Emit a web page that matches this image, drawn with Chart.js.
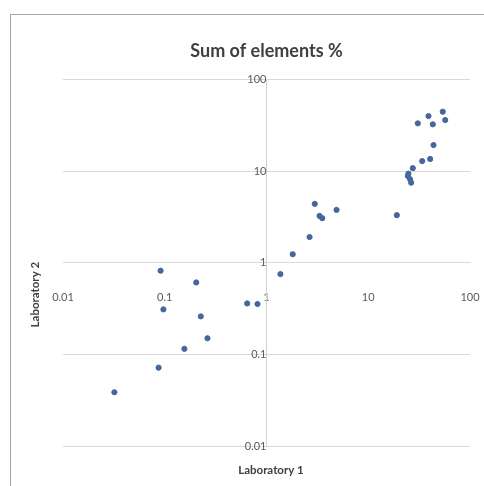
<!DOCTYPE html>
<html>
<head>
<meta charset="utf-8">
<script src="https://cdn.jsdelivr.net/npm/chart.js@4/dist/chart.umd.min.js"></script>
<style>
  html, body { margin: 0; padding: 0; background: #fff; overflow: hidden; }
  #frame { position: absolute; left: 10px; top: 14px; width: 600px; height: 600px;
           border-left: 1px solid #a6a6a6; border-top: 1px solid #a6a6a6; }
  #c { position: absolute; left: 0; top: 0; }
</style>
</head>
<body>
<div id="frame"></div>
<canvas id="c" width="484" height="486"></canvas>
<script>
// values (Laboratory 1 vs Laboratory 2)
const lab1 = [0.032, 0.087, 0.156, 0.263, 0.226, 0.097, 0.091, 0.204, 0.646, 0.816,
              1.37, 1.81, 2.65, 2.98, 3.32, 3.53, 4.88, 19.1,
              24.5, 24.8, 25.8, 26.4, 27.4, 33.9, 40.6, 43.8, 30.7, 39.1, 43.1, 54.0, 57.1];
const lab2 = [0.0386, 0.0717, 0.115, 0.150, 0.26, 0.31, 0.82, 0.61, 0.36, 0.355,
              0.753, 1.24, 1.91, 4.40, 3.25, 3.07, 3.78, 3.31,
              8.88, 9.4, 8.17, 7.50, 10.8, 12.9, 13.6, 19.3, 33.3, 40.0, 32.5, 44.6, 36.2];
const tickValues = [0.01, 0.1, 1, 10, 100];
const tickLabels = ["0.01", "0.1", "1", "10", "100"];

const points = lab1.map((x, i) => ({ x: x, y: lab2[i] }));

// axis titles drawn relative to the chart area
const axisTitles = {
  id: "axisTitles",
  afterDraw(chart) {
    const ctx = chart.ctx, a = chart.chartArea;
    ctx.save();
    ctx.fillStyle = "#404040";
    ctx.font = "bold 11.5px Lato";
    ctx.textAlign = "center";
    ctx.textBaseline = "middle";
    ctx.fillText("Laboratory 1", 271, a.bottom + 24);
    ctx.translate(35, a.top + 215);
    ctx.rotate(-Math.PI / 2);
    ctx.fillText("Laboratory 2", 0, 0);
    ctx.restore();
  }
};

function onlyDecades(scale) {
  scale.ticks = tickValues.map(v => ({ value: v }));
}
function decadeLabel(v) {
  const i = tickValues.indexOf(v);
  return i >= 0 ? tickLabels[i] : "";
}
// keep the tick label overhang from shrinking the plot area
function noOverhang(s) {
  s.paddingLeft = 0; s.paddingRight = 0; s.paddingTop = 0; s.paddingBottom = 0;
}

new Chart(document.getElementById("c"), {
  type: "scatter",
  data: {
    datasets: [{
      data: points,
      backgroundColor: "#46679c",
      borderColor: "#46679c",
      pointRadius: 2.6,
      pointHoverRadius: 2.6
    }]
  },
  options: {
    responsive: false,
    animation: false,
    layout: { padding: { left: 63, right: 14, top: 0, bottom: 40 } },
    plugins: {
      legend: { display: false },
      tooltip: { enabled: false },
      title: {
        display: true,
        text: "Sum of elements %",
        color: "#404040",
        font: { family: "Lato", size: 18, weight: "bold" },
        padding: { top: 40, bottom: 18 }
      }
    },
    scales: {
      x: {
        type: "logarithmic",
        min: 0.01, max: 100,
        position: { y: 1 },
        afterBuildTicks: onlyDecades,
        afterFit: noOverhang,
        grid: { display: false },
        border: { display: true, color: "#d9d9d9" },
        ticks: {
          callback: decadeLabel,
          color: "#595959",
          font: { family: "Lato", size: 11 },
          padding: 20,
          maxRotation: 0,
          autoSkip: false
        }
      },
      y: {
        type: "logarithmic",
        min: 0.01, max: 100,
        position: { x: 1 },
        afterBuildTicks: onlyDecades,
        afterFit: noOverhang,
        grid: { display: true, color: "#d9d9d9", drawTicks: false },
        border: { display: true, color: "#d0d0d0" },
        ticks: {
          callback: decadeLabel,
          color: "#595959",
          font: { family: "Lato", size: 11 },
          padding: 12,
          autoSkip: false
        }
      }
    }
  },
  plugins: [axisTitles]
});
</script>
</body>
</html>
